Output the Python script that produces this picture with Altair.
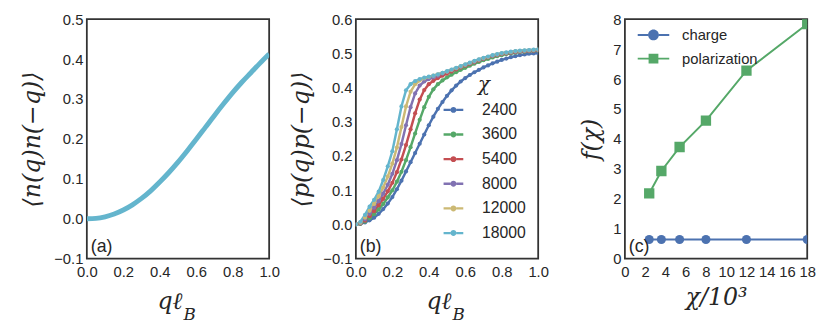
import altair as alt
import pandas as pd

# ---------------- data ----------------
Q_A = [0.0, 0.05, 0.1, 0.15, 0.2, 0.25, 0.3, 0.35, 0.4, 0.45, 0.5,
       0.55, 0.6, 0.65, 0.7, 0.75, 0.8, 0.85, 0.9, 0.95, 1.0]
NN_A = [0.000, 0.001, 0.005, 0.012, 0.022, 0.035, 0.051, 0.070, 0.092, 0.116, 0.142,
        0.170, 0.199, 0.229, 0.259, 0.288, 0.316, 0.342, 0.366, 0.390, 0.413]

Q_B = [0.0, 0.025, 0.05, 0.075, 0.1, 0.125, 0.15, 0.175, 0.2, 0.225,
       0.25, 0.275, 0.3, 0.325, 0.35, 0.375, 0.4, 0.425, 0.45, 0.475,
       0.5, 0.525, 0.55, 0.575, 0.6, 0.625, 0.65, 0.675, 0.7, 0.725,
       0.75, 0.775, 0.8, 0.825, 0.85, 0.875, 0.9, 0.925, 0.95, 0.975, 1.0]
CHI_LABELS = ["2400", "3600", "5400", "8000", "12000", "18000"]
PP_2400 = [0.000, 0.002, 0.006, 0.012, 0.020, 0.031, 0.045, 0.061, 0.080, 0.103,
           0.128, 0.155, 0.182, 0.209, 0.236, 0.263, 0.290, 0.315, 0.338, 0.358,
           0.376, 0.392, 0.406, 0.418, 0.428, 0.437, 0.445, 0.452, 0.459, 0.465,
           0.471, 0.476, 0.481, 0.485, 0.489, 0.492, 0.495, 0.497, 0.499, 0.500, 0.501]
PP_3600 = [0.000, 0.002, 0.008, 0.018, 0.030, 0.044, 0.060, 0.079, 0.100, 0.125,
           0.154, 0.188, 0.226, 0.266, 0.306, 0.343, 0.373, 0.395, 0.410, 0.421,
           0.430, 0.438, 0.445, 0.452, 0.458, 0.464, 0.470, 0.475, 0.480, 0.484,
           0.488, 0.492, 0.495, 0.498, 0.500, 0.502, 0.504, 0.505, 0.506, 0.507, 0.508]
PP_5400 = [0.000, 0.003, 0.011, 0.024, 0.039, 0.056, 0.075, 0.097, 0.122, 0.153,
           0.190, 0.232, 0.278, 0.325, 0.365, 0.393, 0.410, 0.420, 0.428, 0.435,
           0.441, 0.447, 0.453, 0.459, 0.464, 0.469, 0.474, 0.479, 0.484, 0.488,
           0.492, 0.495, 0.498, 0.500, 0.502, 0.504, 0.505, 0.506, 0.507, 0.508, 0.509]
PP_8000 = [0.000, 0.004, 0.015, 0.031, 0.049, 0.068, 0.090, 0.116, 0.148, 0.188,
           0.235, 0.290, 0.343, 0.383, 0.406, 0.418, 0.425, 0.430, 0.435, 0.441,
           0.446, 0.451, 0.456, 0.461, 0.466, 0.471, 0.476, 0.481, 0.485, 0.489,
           0.493, 0.496, 0.499, 0.501, 0.503, 0.505, 0.506, 0.507, 0.508, 0.509, 0.510]
PP_12000 = [0.000, 0.005, 0.020, 0.040, 0.060, 0.082, 0.108, 0.140, 0.178, 0.225,
            0.285, 0.345, 0.388, 0.410, 0.421, 0.427, 0.431, 0.435, 0.439, 0.443,
            0.447, 0.452, 0.457, 0.462, 0.467, 0.472, 0.477, 0.482, 0.486, 0.490,
            0.494, 0.497, 0.500, 0.502, 0.504, 0.506, 0.507, 0.508, 0.509, 0.510, 0.511]
PP_18000 = [0.000, 0.008, 0.028, 0.052, 0.072, 0.096, 0.130, 0.170, 0.214, 0.278,
            0.345, 0.392, 0.410, 0.419, 0.425, 0.429, 0.432, 0.435, 0.439, 0.443,
            0.448, 0.453, 0.458, 0.463, 0.468, 0.473, 0.478, 0.483, 0.487, 0.491,
            0.495, 0.498, 0.501, 0.503, 0.505, 0.507, 0.508, 0.509, 0.510, 0.511, 0.512]

CHI_C = [2.4, 3.6, 5.4, 8.0, 12.0, 18.0]
F_CHARGE = [0.64, 0.64, 0.64, 0.64, 0.64, 0.64]
F_POL = [2.18, 2.93, 3.73, 4.61, 6.28, 7.84]
SERIES = ["charge", "polarization"]

COLORS = ["#4C72B0", "#55A868", "#C44E52", "#8172B2", "#CCB974", "#64B5CD"]

# ---------------- style ----------------
LABEL_FONT = "Liberation Sans"
MATH_FONT = "DejaVu Serif"
INK = "#262626"
W, H = 185, 243


def axis(values, fmt, title=None, orient="bottom"):
    kw = dict(values=values, format=fmt, ticks=False, domain=False, grid=False,
              labelFont=LABEL_FONT, labelFontSize=15, labelColor=INK,
              labelFlush=False, labelOverlap=False,
              titleFont=MATH_FONT, titleFontStyle="italic", titleFontWeight="normal",
              titleFontSize=24, titleColor=INK)
    if orient == "left":
        kw.update(labelPadding=4, titlePadding=9)
    else:
        kw.update(labelPadding=6, titlePadding=6)
    kw["title"] = title
    return alt.Axis(**kw)


def text_layer(txt, x, y, size, font, style="normal", align="left", baseline="alphabetic"):
    return alt.Chart(pd.DataFrame({"t": [txt]})).mark_text(
        align=align, baseline=baseline, font=font, fontSize=size,
        fontStyle=style, color=INK
    ).encode(x=alt.value(x), y=alt.value(y), text="t:N")


def ql_title():
    return [
        text_layer("qℓ", 97, H + 51, 24, MATH_FONT, "italic", align="right"),
        text_layer("B", 98, H + 62, 17, MATH_FONT, "italic", align="left"),
    ]


X_VALS = [0.0, 0.2, 0.4, 0.6, 0.8, 1.0]

# ---------------- panel (a) ----------------
df_a = pd.DataFrame({"q": Q_A, "v": NN_A})
line_a = alt.Chart(df_a).mark_line(color="#64B5CD", strokeWidth=5, clip=True,
                                   interpolate="monotone").encode(
    x=alt.X("q:Q", scale=alt.Scale(domain=[0, 1], nice=False), axis=axis(X_VALS, ".1f")),
    y=alt.Y("v:Q", scale=alt.Scale(domain=[-0.1, 0.5], nice=False),
            axis=axis([-0.1, 0.0, 0.1, 0.2, 0.3, 0.4, 0.5], ".1f", "⟨n(q)n(−q)⟩", "left")),
)
panel_a = alt.layer(
    line_a,
    text_layer("(a)", 4, H - 3, 18, LABEL_FONT, baseline="bottom"),
    *ql_title(),
).properties(width=W, height=H)

# ---------------- panel (b) ----------------
rows = []
for lab, ser in zip(CHI_LABELS, [PP_2400, PP_3600, PP_5400, PP_8000, PP_12000, PP_18000]):
    for q, v in zip(Q_B, ser):
        rows.append({"q": q, "v": v, "chi": lab})
df_b = pd.DataFrame(rows)

SYM_B = ("M-1,-0.12H-0.3V0.12H-1Z M0.3,-0.12H1V0.12H0.3Z "
         "M-0.3,0A0.3,0.3 0 1,1 0.3,0A0.3,0.3 0 1,1 -0.3,0Z")
color_b_scale = alt.Scale(domain=CHI_LABELS, range=COLORS)
xb = alt.X("q:Q", scale=alt.Scale(domain=[0, 1], nice=False), axis=axis(X_VALS, ".1f"))
yb = alt.Y("v:Q", scale=alt.Scale(domain=[-0.1, 0.6], nice=False),
           axis=axis([-0.1, 0.0, 0.1, 0.2, 0.3, 0.4, 0.5, 0.6], ".1f", "⟨p(q)p(−q)⟩", "left"))
lines_b = [
    alt.Chart(df_b).transform_filter(alt.datum.chi == lab).mark_line(
        strokeWidth=2.5, clip=True, color=col).encode(x=xb, y=yb)
    for lab, col in zip(CHI_LABELS, COLORS)
]
pts_b = alt.Chart(df_b).mark_point(filled=True, size=18, opacity=1, clip=True).encode(
    x=xb, y=yb,
    color=alt.Color("chi:N", scale=color_b_scale, legend=alt.Legend(
        title=None, orient="none", legendX=89, legendY=82, padding=0,
        symbolType=SYM_B, symbolSize=400, symbolStrokeWidth=0,
        labelFont=LABEL_FONT, labelFontSize=16, labelColor=INK, labelOffset=19,
        rowPadding=7)),
)
panel_b = alt.layer(
    *lines_b, pts_b,
    text_layer("χ", 124, 67, 20, MATH_FONT, "italic", baseline="middle"),
    text_layer("(b)", 4, H - 3, 18, LABEL_FONT, baseline="bottom"),
    *ql_title(),
).properties(width=W, height=H)

# ---------------- panel (c) ----------------
df_c = pd.DataFrame({
    "x": CHI_C + CHI_C,
    "v": F_CHARGE + F_POL,
    "series": [SERIES[0]] * len(CHI_C) + [SERIES[1]] * len(CHI_C),
})
SYM_CIRCLE = ("M-1,-0.0625H-0.34V0.0625H-1Z M0.34,-0.0625H1V0.0625H0.34Z "
              "M-0.34,0A0.34,0.34 0 1,1 0.34,0A0.34,0.34 0 1,1 -0.34,0Z")
SYM_SQUARE = ("M-1,-0.0625H-0.31V0.0625H-1Z M0.31,-0.0625H1V0.0625H0.31Z "
              "M-0.31,-0.31H0.31V0.31H-0.31Z")
color_c_scale = alt.Scale(domain=SERIES, range=[COLORS[0], COLORS[1]])
xc = alt.X("x:Q", scale=alt.Scale(domain=[0, 18], nice=False),
           axis=axis(list(range(0, 19, 2)), "d", "χ/10³"))
yc = alt.Y("v:Q", scale=alt.Scale(domain=[0, 8], nice=False),
           axis=axis(list(range(0, 9)), "d", "f(χ)", "left"))
leg_c = dict(title=None, orient="none", legendX=13, legendY=0, padding=0,
             symbolSize=1024, symbolStrokeWidth=0, symbolOpacity=1,
             labelFont=LABEL_FONT, labelFontSize=15, labelColor=INK, labelOffset=13,
             rowPadding=-10)
lines_c = [
    alt.Chart(df_c).transform_filter(alt.datum.series == s).mark_line(
        strokeWidth=2, clip=True, color=col).encode(x=xc, y=yc)
    for s, col in zip(SERIES, COLORS[:2])
]
circ_c = alt.Chart(df_c).transform_filter(alt.datum.series == SERIES[0]).mark_circle(
    size=85, opacity=1, color=COLORS[0], clip=True).encode(x=xc, y=yc)
sq_c = alt.Chart(df_c).transform_filter(alt.datum.series == SERIES[1]).mark_square(
    size=110, opacity=1, color=COLORS[1], clip=True).encode(x=xc, y=yc)
# legend-only layer: no rows survive the filter, the legend comes from the scale domain
leg_layer = alt.Chart(df_c).transform_filter(alt.datum.x < 0).mark_point(
    filled=True, opacity=1, clip=True).encode(
    x=xc, y=yc,
    color=alt.Color("series:N", scale=color_c_scale, legend=alt.Legend(**leg_c)),
    shape=alt.Shape("series:N", scale=alt.Scale(domain=SERIES, range=[SYM_CIRCLE, SYM_SQUARE]),
                    legend=alt.Legend(**leg_c)),
)
panel_c = alt.layer(
    *lines_c, circ_c, sq_c, leg_layer,
    text_layer("(c)", 4, H - 3, 18, LABEL_FONT, baseline="bottom"),
).properties(width=W, height=H)

chart = alt.hconcat(panel_a, panel_b, panel_c, spacing=88, bounds="flush").resolve_scale(
    color="independent", shape="independent", x="independent", y="independent"
).properties(
    padding={"left": 12, "top": 1, "right": 5, "bottom": 5},
    background="white",
).configure_view(
    stroke="#333333", strokeWidth=1.8
)

chart.save("out.html", embed_options={"renderer": "svg", "actions": False})
